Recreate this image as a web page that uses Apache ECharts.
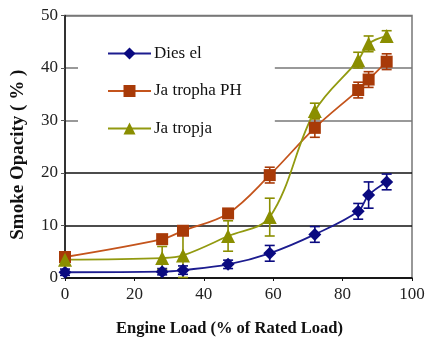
<!DOCTYPE html>
<html><head><meta charset="utf-8">
<script src="https://cdn.jsdelivr.net/npm/echarts@6/dist/echarts.min.js"></script>
<style>html,body{margin:0;padding:0;background:#fff}#c{width:425px;height:338px}</style>
</head><body><div id="c"></div>
<script>
const loads = [0, 28, 34, 47, 59, 72, 84.5, 87.5, 92.7];
const diesel = [1.1, 1.2, 1.5, 2.6, 4.7, 8.3, 12.7, 15.8, 18.3];
const dieselErr = [0.6, 0.6, 0.8, 0.8, 1.5, 1.5, 1.5, 2.5, 1.5];
const jatPH = [4.0, 7.4, 9.0, 12.3, 19.6, 28.6, 35.8, 37.8, 41.2];
const jatPHErr = [0.6, 0.8, 0.8, 0.8, 1.5, 1.8, 1.5, 1.5, 1.5];
const jatropja = [3.5, 3.8, 4.3, 8.0, 11.6, 31.8, 41.5, 44.6, 46.1];
const jatropjaErr = [0.6, 2.2, 4.2, 2.9, 3.6, 1.5, 1.5, 1.5, 1.0];
const names = ['Dies el', 'Ja tropha PH', 'Ja tropja'];
const lineColors = ['#1c1c8f', '#c4541c', '#929a10'];
const markColors = ['#0a0a80', '#a83a08', '#8a8e00'];
const yTicks = [0, 10, 20, 30, 40, 50];
const xTicks = [0, 20, 40, 60, 80, 100];

const chart = echarts.init(document.getElementById('c'));
const serif = 'Liberation Serif';
function pairs(ys){ return loads.map((x,i)=>[x, ys[i]]); }
function errData(ys, es){ return loads.map((x,i)=>[x, ys[i]-es[i], ys[i]+es[i]]); }
function errSeries(ys, es, color){
  return {
    type:'custom', z:3, silent:true,
    data: errData(ys, es),
    renderItem: function(params, api){
      const lo = api.coord([api.value(0), api.value(1)]);
      const hi = api.coord([api.value(0), api.value(2)]);
      const w = 5;
      const st = {stroke: color, lineWidth: 1.6};
      return {type:'group', children:[
        {type:'line', shape:{x1:lo[0],y1:lo[1],x2:hi[0],y2:hi[1]}, style:st},
        {type:'line', shape:{x1:lo[0]-w,y1:lo[1],x2:lo[0]+w,y2:lo[1]}, style:st},
        {type:'line', shape:{x1:hi[0]-w,y1:hi[1],x2:hi[0]+w,y2:hi[1]}, style:st}
      ]};
    }
  };
}
const symbols = ['diamond', 'rect', 'triangle'];
const sizes = [13, 12, 14];
const vals = [diesel, jatPH, jatropja];
const errs = [dieselErr, jatPHErr, jatropjaErr];
const series = [];
for (let k=0;k<3;k++){
  series.push({
    name: names[k], type:'line', smooth:0.35, z:4,
    data: pairs(vals[k]),
    symbol: symbols[k], symbolSize: sizes[k],
    lineStyle:{color: lineColors[k], width:1.8},
    itemStyle:{color: markColors[k]}
  });
  series.push(errSeries(vals[k], errs[k], markColors[k]));
}
chart.setOption({
  animation:false,
  grid:{left:65, right:13, top:15.5, bottom:60, show:true, borderColor:'#777', borderWidth:1.5,
        containLabel:false, outerBoundsMode:'none'},
  legend:{
    left:78, top:39, orient:'vertical', backgroundColor:'#fff',
    padding:[6, 33, 10, 29], itemWidth:43, itemHeight:15, itemGap:20.5,
    data: names,
    textStyle:{fontFamily:serif, fontSize:17, color:'#111', padding:[0,0,0,-2]}
  },
  xAxis:{
    type:'value', min:xTicks[0], max:xTicks[xTicks.length-1], interval:20,
    name:'Engine Load (% of Rated Load)', nameLocation:'middle', nameGap:42,
    nameTextStyle:{fontFamily:serif, fontSize:16.5, fontWeight:'bold', color:'#111', padding:[0,18,0,0]},
    axisLine:{lineStyle:{color:'#111', width:1.5}},
    axisTick:{show:true, length:3, lineStyle:{color:'#111'}},
    axisLabel:{fontFamily:serif, fontSize:17, color:'#222', margin:8},
    splitLine:{show:false}
  },
  yAxis:{
    type:'value', min:yTicks[0], max:yTicks[yTicks.length-1], interval:10,
    name:'Smoke Opacity ( % )', nameLocation:'middle', nameGap:37,
    nameTextStyle:{fontFamily:serif, fontSize:19, fontWeight:'bold', color:'#111', padding:[0,16,0,0]},
    axisLine:{show:true, lineStyle:{color:'#111', width:1.5}},
    axisTick:{show:true, length:4, lineStyle:{color:'#555'}},
    axisLabel:{fontFamily:serif, fontSize:17, color:'#222', margin:7},
    splitLine:{show:true, lineStyle:{color:['#111','#111','#111','#777','#777','#777'], width:1.5}}
  },
  series: series
});
</script></body></html>
